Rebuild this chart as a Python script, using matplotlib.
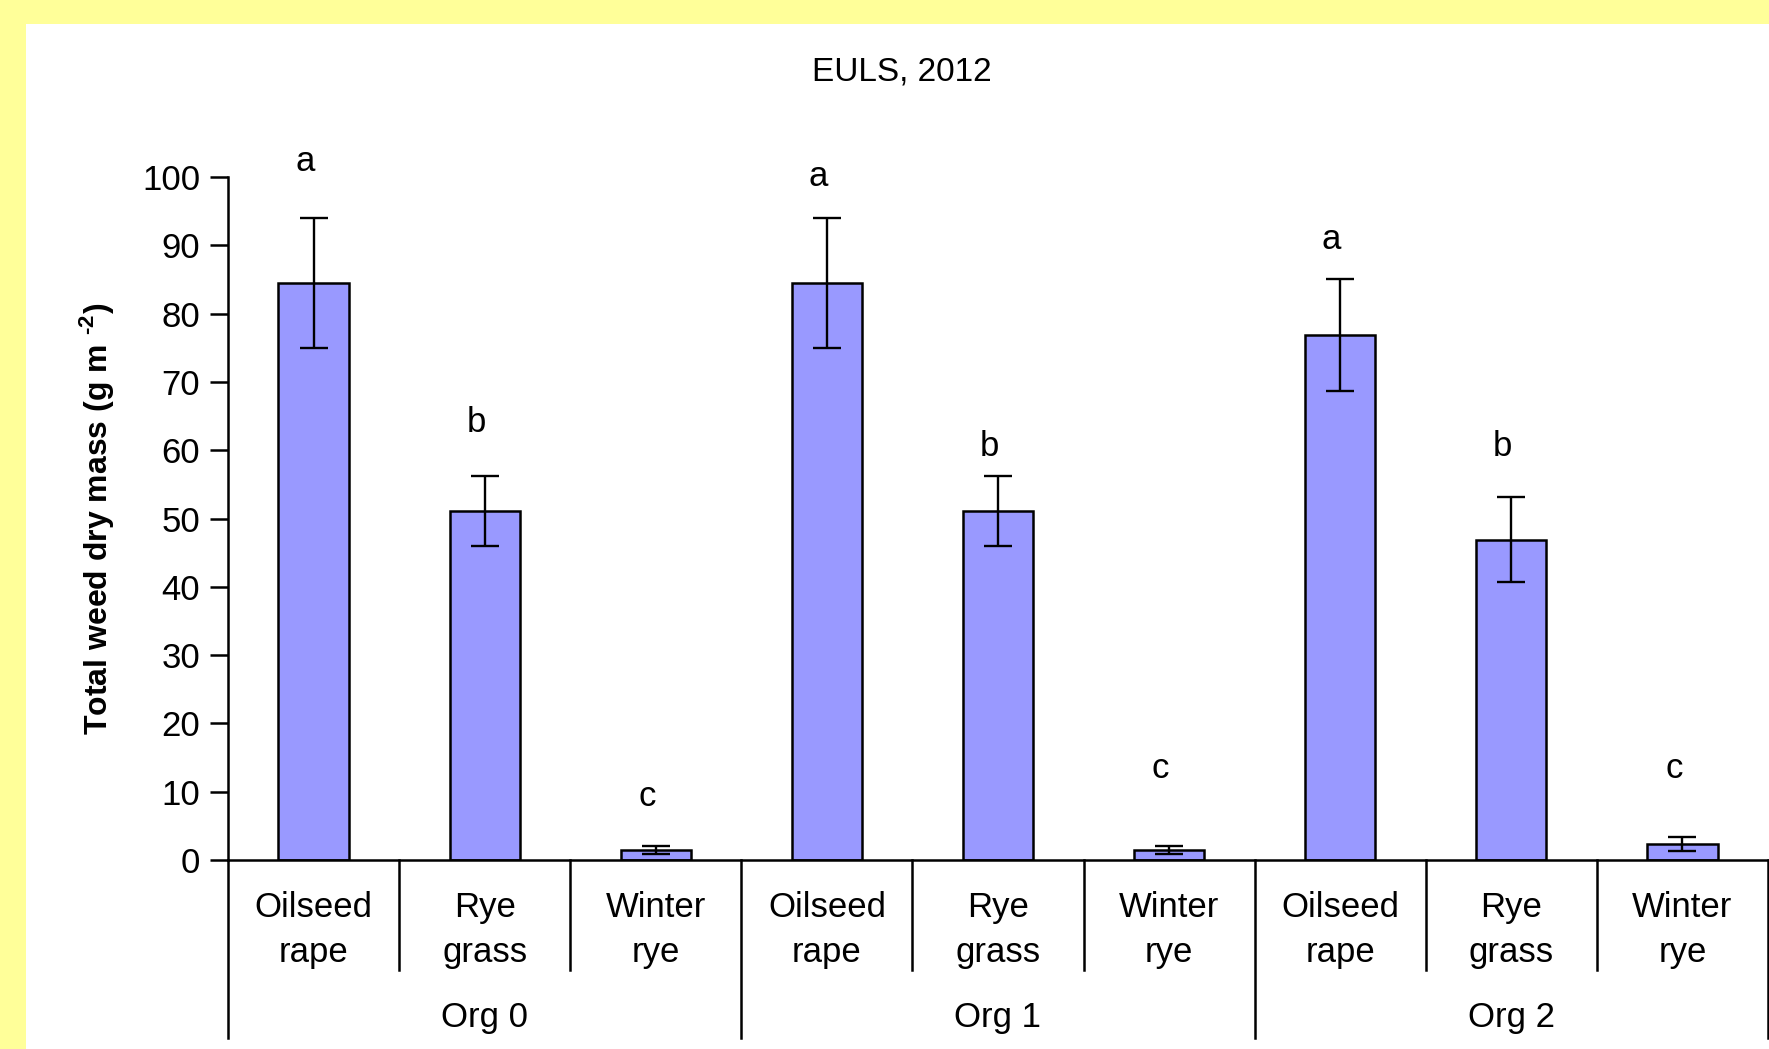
import matplotlib
matplotlib.use("Agg")
import matplotlib.pyplot as plt
import matplotlib.transforms as mtransforms
from matplotlib.patches import Rectangle
import numpy as np

plt.rcParams['font.family'] = ['Liberation Sans', 'DejaVu Sans']
plt.rcParams['mathtext.fontset'] = 'custom'
plt.rcParams['mathtext.rm'] = 'Liberation Sans:bold'
plt.rcParams['mathtext.bf'] = 'Liberation Sans:bold'

groups = ["Org 0", "Org 1", "Org 2"]
crops = ["Oilseed\nrape", "Rye\ngrass", "Winter\nrye"]

# mean weed dry mass and standard error, per group (oilseed rape, rye grass, winter rye)
mass = [84.5, 51.1, 1.5,
        84.5, 51.1, 1.5,
        76.9, 46.9, 2.3]
err = [9.5, 5.1, 0.6,
       9.5, 5.1, 0.6,
       8.2, 6.2, 1.0]
letters = ["a", "b", "c", "a", "b", "c", "a", "b", "c"]
letter_y = [102.3, 64.1, 9.3,
            100.0, 60.5, 13.4,
            90.9, 60.5, 13.4]

W, H = 1769, 1049
FS = 25
fig = plt.figure(figsize=(W / 100, H / 100), dpi=100, facecolor="#FFFF99")
fig.patches.append(Rectangle((26 / W, 0), 1, 1 - 24 / H, transform=fig.transFigure,
                             facecolor="white", edgecolor="none", zorder=-5))
fig.text(100 / W, 1 + 12 / H, "(a)", fontsize=40, fontweight="bold", va="baseline")

ax = fig.add_axes([228 / W, 1 - 860 / H, 1540 / W, 683 / H], zorder=2)
ax.set_facecolor("none")
x = np.arange(len(mass))
ax.bar(x, mass, width=0.41, color="#9999FF", edgecolor="black", linewidth=1.8, zorder=2)
ax.errorbar(x, mass, yerr=err, fmt="none", ecolor="black", elinewidth=1.7,
            capsize=10, capthick=1.7, zorder=3)
for xi, lab, ly in zip(x, letters, letter_y):
    ax.text(xi - 0.05, ly, lab, ha="center", va="center", fontsize=FS, clip_on=False)

ax.set_xlim(-0.5, len(mass) - 0.5)
ax.set_ylim(0, 100)
ax.set_yticks(np.arange(0, 101, 10))
ax.tick_params(axis="y", labelsize=FS, length=13, width=1.8, pad=7, direction="out")
ax.set_xticks([])
for s in ["top", "right"]:
    ax.spines[s].set_visible(False)
for s in ["left", "bottom"]:
    ax.spines[s].set_linewidth(1.8)

# category separators and group separators below the axis
trans = mtransforms.blended_transform_factory(ax.transData, ax.transAxes)
for b in np.arange(-0.5, len(mass), 1.0):
    bottom = -0.261 if (b + 0.5) % 3 == 0 else -0.161
    ax.plot([b, b], [0, bottom], color="black", lw=1.8, transform=trans, clip_on=False)
for i, xi in enumerate(x):
    ax.text(xi, -0.1025, crops[i % 3], ha="center", va="center", fontsize=FS,
            linespacing=1.45, transform=trans)
for g, name in enumerate(groups):
    ax.text(3 * g + 1, -0.231, name, ha="center", va="center", fontsize=FS, transform=trans)

fig.text(902 / W, 1 - 72 / H, "EULS, 2012", ha="center", va="center", fontsize=24)
fig.text(96 / W, 1 - 519 / H, r"Total weed dry mass (g m $^{\text{-}2}$)", rotation=90,
         ha="center", va="center", fontsize=23, fontweight="bold")

fig.savefig("out.png", dpi=100, facecolor=fig.get_facecolor())
